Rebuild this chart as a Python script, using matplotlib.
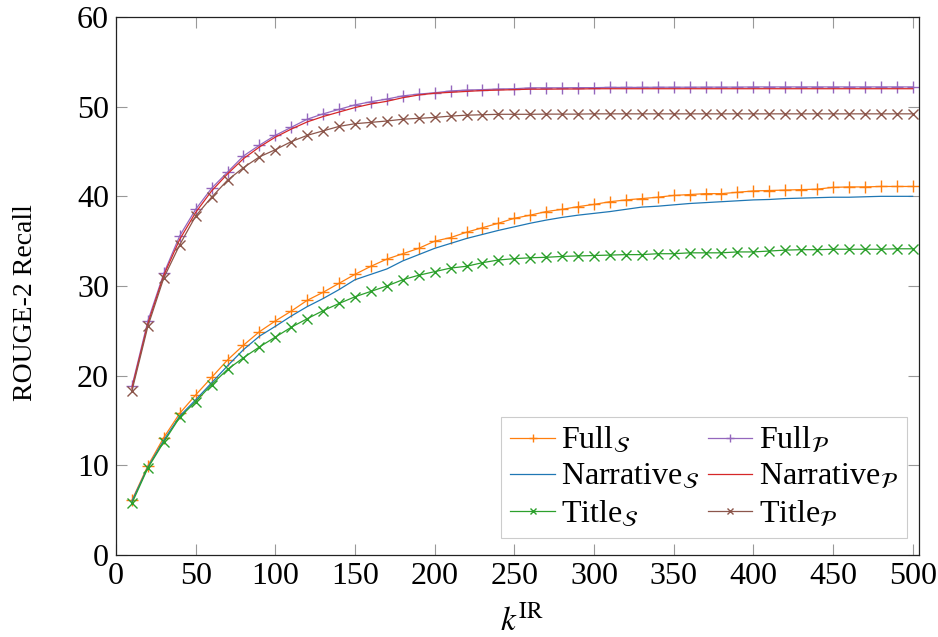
import matplotlib
matplotlib.use("Agg")
import matplotlib.pyplot as plt
import numpy as np

plt.rcParams['font.family'] = ['Liberation Serif', 'DejaVu Serif']
plt.rcParams['mathtext.fontset'] = 'stix'

k = list(range(10, 510, 10))

full_s = [6.1, 9.96, 13.1, 15.8, 17.85, 19.8, 21.75, 23.4, 24.9, 26.1,
          27.2, 28.4, 29.3, 30.3, 31.3, 32.2, 33.0, 33.6, 34.2, 35.0,
          35.4, 36.0, 36.5, 37.0, 37.55, 37.9, 38.3, 38.55, 38.85, 39.1,
          39.4, 39.6, 39.75, 39.9, 40.1, 40.2, 40.3, 40.3, 40.45, 40.6,
          40.65, 40.7, 40.75, 40.8, 41.0, 41.05, 41.05, 41.1, 41.1, 41.1]

narr_s = [6.0, 9.8, 12.8, 15.5, 17.3, 19.2, 21.1, 22.9, 24.4, 25.5,
          26.65, 27.7, 28.6, 29.6, 30.7, 31.3, 31.9, 32.8, 33.5, 34.2,
          34.75, 35.3, 35.75, 36.2, 36.6, 37.0, 37.35, 37.65, 37.9, 38.1,
          38.3, 38.55, 38.8, 38.9, 39.05, 39.2, 39.3, 39.4, 39.5, 39.6,
          39.65, 39.75, 39.8, 39.85, 39.9, 39.9, 39.95, 40.0, 40.0, 40.0]

title_s = [5.77, 9.7, 12.6, 15.35, 17.1, 19.0, 20.7, 22.0, 23.2, 24.3,
           25.4, 26.35, 27.25, 28.05, 28.8, 29.4, 30.0, 30.7, 31.2, 31.6,
           32.0, 32.2, 32.6, 32.9, 33.05, 33.15, 33.2, 33.3, 33.35, 33.4,
           33.45, 33.5, 33.5, 33.6, 33.6, 33.7, 33.7, 33.7, 33.8, 33.8,
           33.9, 34.0, 34.05, 34.05, 34.1, 34.1, 34.1, 34.1, 34.15, 34.15]

full_p = [18.8, 26.1, 31.4, 35.6, 38.55, 40.9, 42.7, 44.5, 45.7, 46.8,
          47.7, 48.6, 49.2, 49.7, 50.2, 50.55, 50.85, 51.2, 51.4, 51.55,
          51.75, 51.85, 51.9, 51.97, 52.0, 52.1, 52.1, 52.1, 52.12, 52.12,
          52.15, 52.15, 52.15, 52.17, 52.17, 52.17, 52.18, 52.18, 52.18, 52.2,
          52.2, 52.2, 52.2, 52.2, 52.2, 52.2, 52.2, 52.2, 52.2, 52.2]

narr_p = [18.6, 25.8, 31.2, 35.2, 38.2, 40.6, 42.5, 44.2, 45.5, 46.6,
          47.5, 48.3, 48.9, 49.4, 49.9, 50.3, 50.6, 51.0, 51.3, 51.5,
          51.6, 51.7, 51.8, 51.85, 51.9, 51.95, 51.95, 51.97, 51.97, 52.0,
          52.0, 52.0, 52.0, 52.0, 52.0, 52.0, 52.0, 52.0, 52.0, 52.0,
          52.0, 52.0, 52.0, 52.0, 52.0, 52.0, 52.0, 52.0, 52.0, 52.0]

title_p = [18.3, 25.5, 30.9, 34.6, 37.8, 39.9, 41.8, 43.2, 44.4, 45.2,
           46.1, 46.8, 47.3, 47.8, 48.1, 48.25, 48.4, 48.6, 48.7, 48.8,
           48.95, 49.05, 49.1, 49.15, 49.15, 49.15, 49.17, 49.17, 49.17, 49.2,
           49.2, 49.2, 49.2, 49.2, 49.2, 49.2, 49.2, 49.2, 49.2, 49.2,
           49.2, 49.2, 49.2, 49.2, 49.2, 49.2, 49.2, 49.2, 49.2, 49.2]

labels = [r'Full$_{\mathcal{S}}$', r'Full$_{\mathcal{P}}$',
          r'Narrative$_{\mathcal{S}}$', r'Narrative$_{\mathcal{P}}$',
          r'Title$_{\mathcal{S}}$', r'Title$_{\mathcal{P}}$']

fig = plt.figure(figsize=(9.38, 6.37), dpi=100)
ax = fig.add_axes([116/938, 1-555/637, (919-116)/938, (555-17)/637])

lw = 0.9
ms = 9
h_fs, = ax.plot(k, full_s, color='#ff7f0e', marker='+', ms=ms, lw=lw, mew=1.0, label=labels[0])
h_fp, = ax.plot(k, full_p, color='#9467bd', marker='+', ms=ms, lw=lw, mew=1.0, label=labels[1])
h_ns, = ax.plot(k, narr_s, color='#1f77b4', lw=lw, label=labels[2])
h_np, = ax.plot(k, narr_p, color='#d62728', lw=lw, label=labels[3])
h_ts, = ax.plot(k, title_s, color='#2ca02c', marker='x', ms=6.5, lw=lw, mew=1.0, label=labels[4])
h_tp, = ax.plot(k, title_p, color='#8c564b', marker='x', ms=6.5, lw=lw, mew=1.0, label=labels[5])

ax.set_xlim(0, 504)
ax.set_ylim(0, 60)
ax.set_xticks(range(0, 501, 50))
ax.set_yticks(range(0, 61, 10))
ax.tick_params(direction='in', length=8, width=0.8, color='#999999',
               top=True, right=True, labelsize=23)
ax.tick_params(axis='x', pad=5)
ax.tick_params(axis='y', pad=5)
for s in ax.spines.values():
    s.set_linewidth(0.9)
    s.set_color('#222222')

ax.set_xlabel(r'$k^{\mathrm{IR}}$', fontsize=24)
ax.xaxis.set_label_coords(0.505, -0.093)
ax.set_ylabel('ROUGE-2 Recall', fontsize=20)
ax.yaxis.set_label_coords(-0.097, 0.47)

handles = [h_fs, h_ns, h_ts, h_fp, h_np, h_tp]
leg = ax.legend(handles=handles, loc='lower right', ncol=2, fontsize=23, frameon=True,
                fancybox=False, edgecolor='#cccccc', framealpha=1,
                handlelength=1.4, handletextpad=0.2, columnspacing=0.25,
                labelspacing=0.22, borderpad=0.28, markerscale=0.6,
                borderaxespad=0.0, bbox_to_anchor=(0.985, 0.031))
leg.get_frame().set_linewidth(0.8)

fig.savefig('out.png', dpi=100)
